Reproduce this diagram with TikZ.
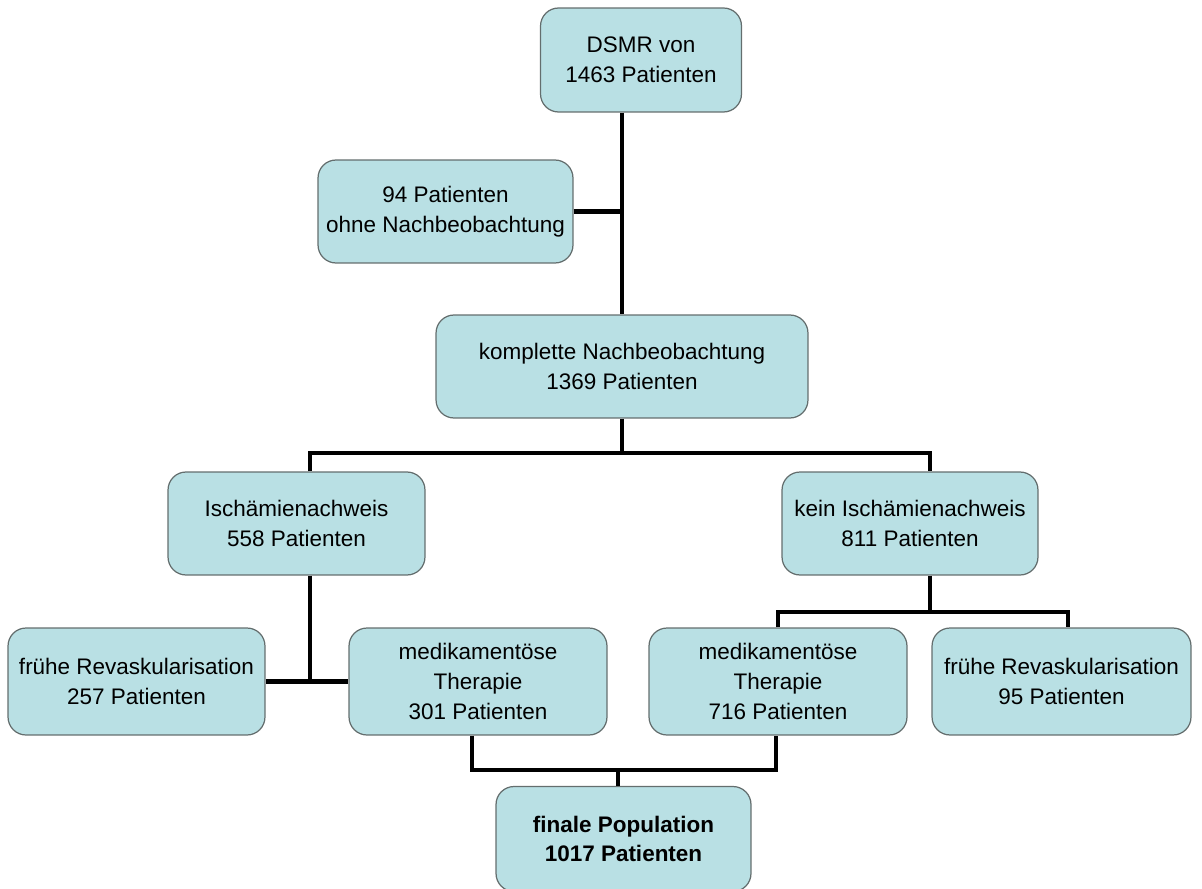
\documentclass[tikz,border=0pt]{standalone}
\usepackage{fontspec}
\setmainfont{Liberation Sans}
\definecolor{boxfill}{RGB}{185,224,228}
\definecolor{boxline}{RGB}{100,110,110}

\begin{document}
\begin{tikzpicture}[x=0.02cm,y=-0.02cm,
  box/.style={draw=boxline,line width=0.7pt,fill=boxfill,rounded corners=0.36cm,
    align=center,inner sep=0pt,font=\fontsize{12.8}{17}\selectfont},
  link/.style={line width=2.3pt,black}]
  \useasboundingbox (0,0) rectangle (1202,888);

  \node[box,minimum width=4.02cm,minimum height=2.08cm] (B1) at (641,60) {DSMR von\\1463 Patienten};
  \node[box,minimum width=5.1cm,minimum height=2.06cm] (B2) at (445.5,211.5) {94 Patienten\\ohne Nachbeobachtung};
  \node[box,minimum width=7.44cm,minimum height=2.06cm] (B3) at (622,366.5) {komplette Nachbeobachtung\\1369 Patienten};
  \node[box,minimum width=5.14cm,minimum height=2.06cm] (B4) at (296.5,523.5) {Ischämienachweis\\558 Patienten};
  \node[box,minimum width=5.12cm,minimum height=2.06cm] (B5) at (910,523.5) {kein Ischämienachweis\\811 Patienten};
  \node[box,minimum width=5.14cm,minimum height=2.14cm] (B6) at (136.5,681.5) {frühe Revaskularisation\\257 Patienten};
  \node[box,minimum width=5.16cm,minimum height=2.14cm] (B7) at (478,681.5) {medikamentöse\\Therapie\\301 Patienten};
  \node[box,minimum width=5.16cm,minimum height=2.14cm] (B8) at (778,681.5) {medikamentöse\\Therapie\\716 Patienten};
  \node[box,minimum width=5.18cm,minimum height=2.14cm] (B9) at (1061.5,681.5) {frühe Revaskularisation\\95 Patienten};
  \node[box,minimum width=5.1cm,minimum height=2.1cm,font=\fontsize{12.8}{17}\selectfont\bfseries] (B10) at (623.5,839) {finale Population\\1017 Patienten};

  \coordinate (J1) at (310,453);
  \coordinate (J2) at (930,453);
  \coordinate (J3) at (930,612);
  \coordinate (J4) at (1068,612);
  \coordinate (J5) at (472,770);
  \coordinate (J6) at (776,770);
  \coordinate (J7) at (618,770);

  \draw[link] (B1.south -| B3.north) -- (B3.north);
  \draw[link] (B2.east) -- (B2.east -| B3.north);
  \draw[link] (B3.south) -- (B3.south |- J1);
  \draw[link] (B4.north -| J1) -- (J1) -- (J2) -- (B5.north -| J2);
  \draw[link] (B4.south -| J1) -- (J1 |- B6.east);
  \draw[link] (B6.east) -- (B7.west);
  \draw[link] (B5.south -| J3) -- (J3);
  \draw[link] (B8.north) -- (B8.north |- J3) -- (J4) -- (B9.north -| J4);
  \draw[link] (B7.south -| J5) -- (J5) -- (J6) -- (B8.south -| J6);
  \draw[link] (B10.north -| J7) -- (J7);
\end{tikzpicture}
\end{document}
